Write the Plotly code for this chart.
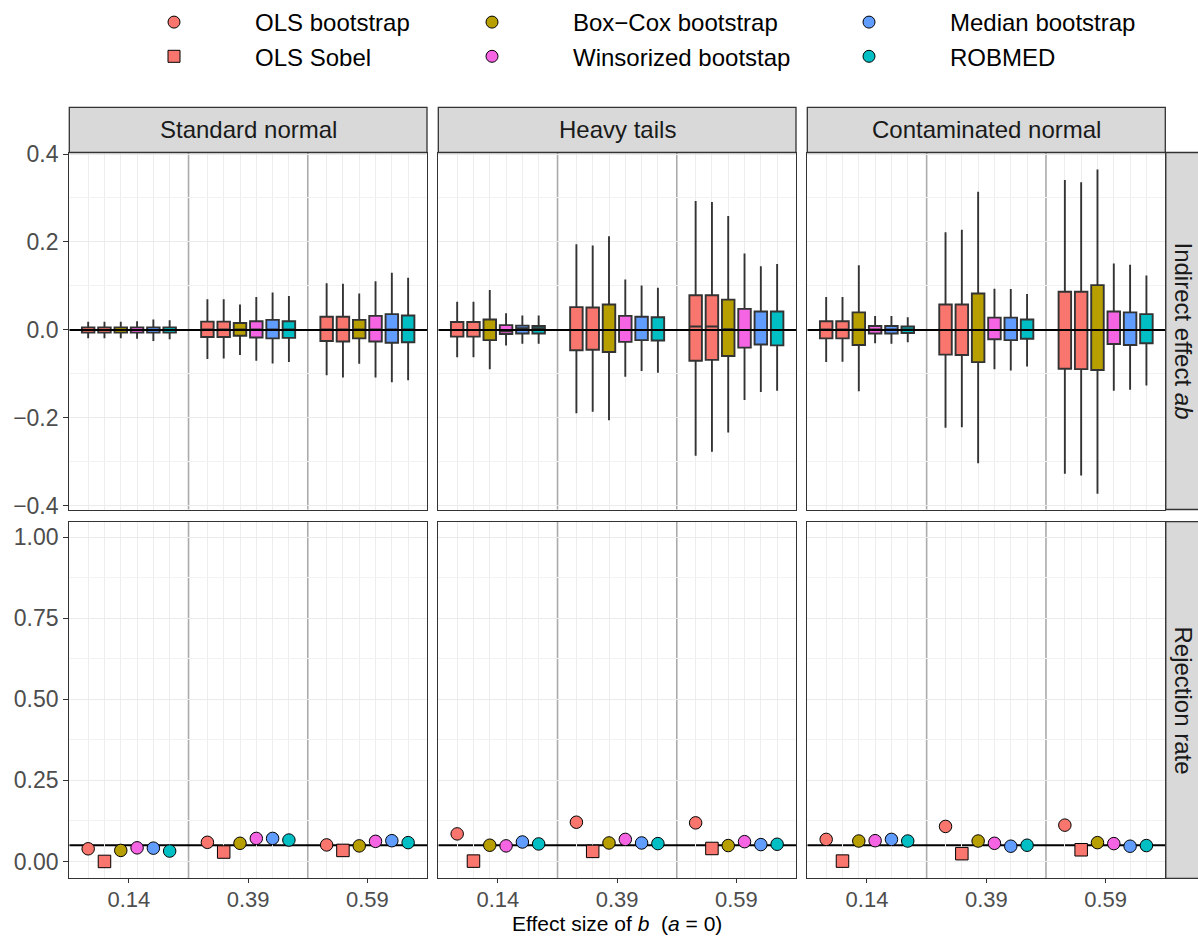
import plotly.graph_objects as go

# ---------------- data ----------------
DISTS = ['Standard normal', 'Heavy tails', 'Contaminated normal']
EFFECTS = ['0.14', '0.39', '0.59']
METHODS = ['OLS bootstrap', 'OLS Sobel', 'Box\u2212Cox bootstrap',
           'Winsorized bootstap', 'Median bootstrap', 'ROBMED']
COLORS = ['#F8766D', '#F8766D', '#B79F00', '#F564E3', '#619CFF', '#00BFC4']
SYMBOLS = ['circle', 'square', 'circle', 'circle', 'circle', 'circle']

# Indirect effect ab: box statistics, [dist][method] -> values for effects 0.14, 0.39, 0.59
WHISK_LOW = {
    'Standard normal': [[-0.019, -0.066, -0.103], [-0.019, -0.065, -0.108], [-0.019, -0.057, -0.077],
                        [-0.020, -0.070, -0.108], [-0.025, -0.076, -0.119], [-0.021, -0.073, -0.114]],
    'Heavy tails': [[-0.062, -0.189, -0.286], [-0.062, -0.186, -0.277], [-0.089, -0.205, -0.233],
                    [-0.035, -0.106, -0.159], [-0.031, -0.093, -0.141], [-0.031, -0.097, -0.138]],
    'Contaminated normal': [[-0.073, -0.222, -0.327], [-0.072, -0.221, -0.331], [-0.139, -0.303, -0.372],
                            [-0.030, -0.089, -0.138], [-0.031, -0.092, -0.136], [-0.028, -0.083, -0.126]],
}
Q1 = {
    'Standard normal': [[-0.006, -0.016, -0.025], [-0.006, -0.016, -0.026], [-0.006, -0.013, -0.019],
                        [-0.006, -0.017, -0.026], [-0.006, -0.019, -0.029], [-0.006, -0.018, -0.028]],
    'Heavy tails': [[-0.015, -0.046, -0.070], [-0.015, -0.045, -0.068], [-0.023, -0.050, -0.059],
                    [-0.009, -0.027, -0.040], [-0.008, -0.023, -0.033], [-0.008, -0.024, -0.035]],
    'Contaminated normal': [[-0.019, -0.056, -0.088], [-0.019, -0.057, -0.089], [-0.034, -0.073, -0.091],
                            [-0.008, -0.021, -0.032], [-0.008, -0.023, -0.034], [-0.007, -0.020, -0.030]],
}
MEDIAN = {
    'Standard normal': [[0.000, 0.001, 0.001]] * 6,
    'Heavy tails': [[0.000, 0.000, 0.008], [0.000, 0.000, 0.008], [0.000, 0.000, 0.002],
                    [-0.003, 0.000, 0.000], [0.004, 0.000, 0.000], [0.004, 0.000, 0.000]],
    'Contaminated normal': [[0.001, 0.000, 0.000]] * 6,
}
Q3 = {
    'Standard normal': [[0.006, 0.019, 0.030], [0.006, 0.019, 0.030], [0.006, 0.016, 0.023],
                        [0.006, 0.020, 0.032], [0.006, 0.023, 0.036], [0.006, 0.020, 0.033]],
    'Heavy tails': [[0.018, 0.052, 0.079], [0.018, 0.051, 0.079], [0.024, 0.058, 0.069],
                    [0.011, 0.032, 0.048], [0.010, 0.030, 0.042], [0.009, 0.029, 0.042]],
    'Contaminated normal': [[0.020, 0.058, 0.087], [0.020, 0.058, 0.087], [0.040, 0.083, 0.102],
                            [0.009, 0.028, 0.042], [0.009, 0.028, 0.040], [0.008, 0.024, 0.036]],
}
WHISK_HIGH = {
    'Standard normal': [[0.019, 0.070, 0.106], [0.019, 0.070, 0.105], [0.019, 0.058, 0.083],
                        [0.020, 0.075, 0.111], [0.024, 0.085, 0.130], [0.022, 0.077, 0.119]],
    'Heavy tails': [[0.064, 0.195, 0.293], [0.064, 0.192, 0.291], [0.091, 0.213, 0.259],
                    [0.038, 0.115, 0.174], [0.033, 0.101, 0.145], [0.033, 0.096, 0.150]],
    'Contaminated normal': [[0.075, 0.222, 0.341], [0.075, 0.228, 0.336], [0.147, 0.314, 0.365],
                            [0.032, 0.094, 0.151], [0.032, 0.093, 0.148], [0.029, 0.082, 0.124]],
}
# Rejection rate, [dist][method] -> values for effects 0.14, 0.39, 0.59
REJECTION = {
    'Standard normal': [[0.039, 0.059, 0.051], [0.000, 0.029, 0.034], [0.034, 0.056, 0.048],
                        [0.042, 0.071, 0.062], [0.041, 0.071, 0.064], [0.032, 0.066, 0.058]],
    'Heavy tails': [[0.085, 0.121, 0.119], [0.001, 0.031, 0.040], [0.050, 0.057, 0.049],
                    [0.048, 0.068, 0.061], [0.060, 0.057, 0.052], [0.054, 0.055, 0.053]],
    'Contaminated normal': [[0.068, 0.108, 0.112], [0.001, 0.024, 0.036], [0.063, 0.063, 0.058],
                            [0.064, 0.056, 0.055], [0.068, 0.047, 0.047], [0.063, 0.050, 0.049]],
}
NOMINAL_LEVEL = 0.05
TOP_TICKS = [-0.4, -0.2, 0.0, 0.2, 0.4]
TOP_TICKTEXT = ['\u22120.4', '\u22120.2', '0.0', '0.2', '0.4']
BOT_TICKS = [0.0, 0.25, 0.5, 0.75, 1.0]
BOT_TICKTEXT = ['0.00', '0.25', '0.50', '0.75', '1.00']

# ---------------- layout geometry ----------------
W, H = 1198, 936
FONT = 'Liberation Sans, Arial, Helvetica, sans-serif'
COL_PX = [(69.3, 427.0), (438.3, 796.0), (807.3, 1165.3)]
ROW_PX = [(152.5, 509.5), (521.7, 878.3)]
STRIP_TOP_PX = 107.3
STRIP_RIGHT_PX = (1165.8, 1215)
DODGE = 0.1367
BOX_W = 0.105
OFFSETS = [(i - 2.5) * DODGE for i in range(6)]
POSITIONS = [g + 0.5 + o for g in range(3) for o in OFFSETS]


def fx(p):
    return p / W


def fy(p):
    return 1 - p / H


fig = go.Figure()
layout = {}
shapes = []
annotations = []

for r in range(2):
    for c in range(3):
        k = r * 3 + c + 1
        xa = 'x' if k == 1 else f'x{k}'
        ya = 'y' if k == 1 else f'y{k}'
        dist = DISTS[c]
        for m, meth in enumerate(METHODS):
            xs = [g + 0.5 + OFFSETS[m] for g in range(3)]
            if r == 0:
                fig.add_trace(go.Box(
                    x=xs, q1=Q1[dist][m], median=MEDIAN[dist][m], q3=Q3[dist][m],
                    lowerfence=WHISK_LOW[dist][m], upperfence=WHISK_HIGH[dist][m],
                    orientation='v', width=BOX_W, whiskerwidth=0, boxpoints=False,
                    fillcolor=COLORS[m], line=dict(color='#333333', width=1.9),
                    xaxis=xa, yaxis=ya, showlegend=False, hoverinfo='skip'))
            else:
                fig.add_trace(go.Scatter(
                    x=xs, y=REJECTION[dist][m], mode='markers',
                    marker=dict(symbol=SYMBOLS[m], size=12.5, color=COLORS[m],
                                line=dict(color='black', width=1)),
                    xaxis=xa, yaxis=ya, showlegend=False, hoverinfo='skip'))

        x0, x1 = COL_PX[c]
        y0, y1 = ROW_PX[r]
        xkey = 'xaxis' if k == 1 else f'xaxis{k}'
        ykey = 'yaxis' if k == 1 else f'yaxis{k}'
        layout[xkey] = dict(
            domain=[fx(x0), fx(x1)], range=[0, 3], anchor=ya,
            showgrid=False, zeroline=False,
            showline=True, mirror=True, linecolor='#333333', linewidth=1.3,
            tickmode='array', tickvals=[0.5, 1.5, 2.5],
            ticktext=EFFECTS if r == 1 else ['', '', ''],
            ticks='outside' if r == 1 else '', ticklen=4, tickcolor='#333333', tickwidth=1.2,
            showticklabels=(r == 1), ticklabelstandoff=-3,
            tickfont=dict(size=22, color='#4D4D4D', family=FONT),
            minor=dict(tickmode='array', tickvals=POSITIONS, showgrid=True,
                       gridcolor='#EDEDED', gridwidth=1, ticks=''),
        )
        if r == 0:
            yr = [-0.408, 0.4034]
            tv, tt = TOP_TICKS, TOP_TICKTEXT
            minor_vals = [-0.3, -0.1, 0.1, 0.3]
        else:
            yr = [-0.052, 1.048]
            tv, tt = BOT_TICKS, BOT_TICKTEXT
            minor_vals = [0.125, 0.375, 0.625, 0.875]
        layout[ykey] = dict(
            domain=[fy(y1), fy(y0)], range=yr, anchor=xa,
            showgrid=True, gridcolor='#EBEBEB', gridwidth=1.3, zeroline=False,
            showline=True, mirror=True, linecolor='#333333', linewidth=1.3,
            tickmode='array', tickvals=tv, ticktext=tt,
            ticks='outside' if c == 0 else '', ticklen=5, tickcolor='#333333', tickwidth=1.2,
            showticklabels=(c == 0),
            tickfont=dict(size=23, color='#4D4D4D', family=FONT),
            minor=dict(tickmode='array', tickvals=minor_vals, showgrid=True,
                       gridcolor='#F2F2F2', gridwidth=1, ticks=''),
        )
        # group separators
        for sx in (1, 2):
            shapes.append(dict(type='line', xref=xa, yref='paper', x0=sx, x1=sx,
                               y0=fy(y1), y1=fy(y0), line=dict(color='#ABABAB', width=1.6),
                               layer='below'))
        # reference line
        if r == 0:
            shapes.append(dict(type='line', xref=xa, yref=ya, x0=0, x1=3, y0=0, y1=0,
                               line=dict(color='black', width=2.2), layer='above'))
        else:
            shapes.append(dict(type='line', xref=xa, yref=ya, x0=0, x1=3,
                               y0=NOMINAL_LEVEL, y1=NOMINAL_LEVEL,
                               line=dict(color='black', width=1.8), layer='below'))

# top strips
for c in range(3):
    x0, x1 = COL_PX[c]
    shapes.append(dict(type='rect', xref='paper', yref='paper', x0=fx(x0), x1=fx(x1),
                       y0=fy(ROW_PX[0][0]), y1=fy(STRIP_TOP_PX),
                       fillcolor='#D9D9D9', line=dict(color='#333333', width=1.3), layer='above'))
    annotations.append(dict(text=DISTS[c], xref='paper', yref='paper',
                            x=fx((x0 + x1) / 2), y=fy((ROW_PX[0][0] + STRIP_TOP_PX) / 2),
                            xanchor='center', yanchor='middle', showarrow=False,
                            font=dict(size=24, color='#1A1A1A', family=FONT)))
# right strips
RIGHT_LABELS = ['Indirect effect <i>ab</i>', 'Rejection rate']
for r in range(2):
    y0, y1 = ROW_PX[r]
    shapes.append(dict(type='rect', xref='paper', yref='paper',
                       x0=fx(STRIP_RIGHT_PX[0]), x1=fx(STRIP_RIGHT_PX[1]),
                       y0=fy(y1), y1=fy(y0),
                       fillcolor='#D9D9D9', line=dict(color='#333333', width=1.3), layer='above'))
    annotations.append(dict(text=RIGHT_LABELS[r], xref='paper', yref='paper',
                            x=fx(1183.5), y=fy((y0 + y1) / 2), textangle=90,
                            xanchor='center', yanchor='middle', showarrow=False,
                            font=dict(size=24, color='#1A1A1A', family=FONT)))
# x axis title
annotations.append(dict(text='Effect size of <i>b</i>  (<i>a</i> = 0)', xref='paper', yref='paper',
                        x=fx((COL_PX[0][0] + COL_PX[2][1]) / 2), y=0.0,
                        xanchor='center', yanchor='bottom', showarrow=False, borderpad=0,
                        font=dict(size=21, color='black', family=FONT)))

# legend (three columns, column-major order like ggplot)
LEGEND_COLS = [[0, 1], [2, 3], [4, 5]]
LEGEND_X_PX = [93, 411, 788]
for li, members in enumerate(LEGEND_COLS):
    lname = 'legend' if li == 0 else f'legend{li + 1}'
    for m in members:
        fig.add_trace(go.Scatter(
            x=[None], y=[None], mode='markers', name=METHODS[m],
            marker=dict(symbol=SYMBOLS[m], size=12, color=COLORS[m],
                        line=dict(color='black', width=1)),
            legend=lname, showlegend=True, xaxis='x4', yaxis='y4'))
    layout[lname] = dict(x=fx(LEGEND_X_PX[li]), y=1.0, xanchor='left', yanchor='top',
                         orientation='v', itemwidth=152, tracegroupgap=0,
                         bgcolor='rgba(0,0,0,0)', borderwidth=0,
                         font=dict(size=24, color='black', family=FONT))

fig.update_layout(**layout)
fig.update_layout(
    width=W, height=H, margin=dict(l=0, r=0, t=0, b=0, autoexpand=False),
    paper_bgcolor='white', plot_bgcolor='white',
    font=dict(family=FONT), shapes=shapes, annotations=annotations,
    showlegend=True, boxmode='overlay',
)
fig.write_html('out.html')
